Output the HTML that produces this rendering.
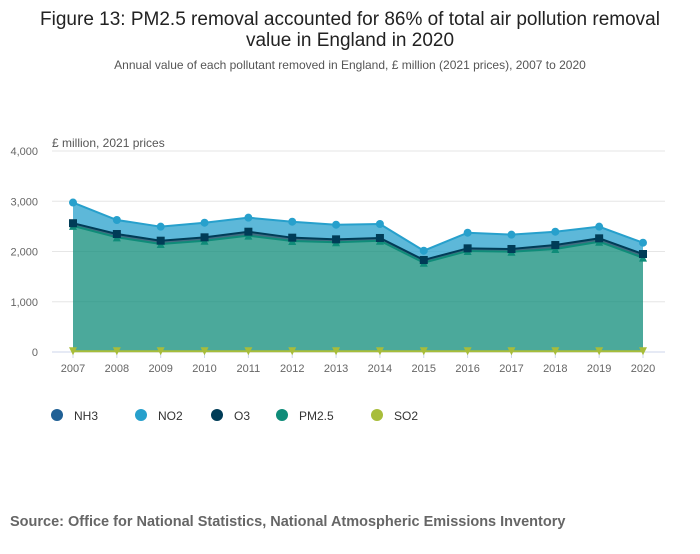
<!DOCTYPE html>
<html><head><meta charset="utf-8"><style>
body{margin:0;background:#fff;font-family:"Liberation Sans",sans-serif;}
svg text{font-family:"Liberation Sans",sans-serif;}
</style></head><body>
<svg width="700" height="549" id="c">
<text x="350" y="25" text-anchor="middle" font-size="19" fill="#222">Figure 13: PM2.5 removal accounted for 86% of total air pollution removal</text>
<text x="350" y="46" text-anchor="middle" font-size="19" fill="#222">value in England in 2020</text>
<text x="350" y="69" text-anchor="middle" font-size="12" fill="#555">Annual value of each pollutant removed in England, £ million (2021 prices), 2007 to 2020</text>
<text x="52" y="147" font-size="12" fill="#555">£ million, 2021 prices</text>
<g id="grid"></g><g id="areas"></g><g id="marks"></g><g id="legend"></g>
<text x="10" y="526" font-size="14.5" font-weight="bold" fill="#666">Source: Office for National Statistics, National Atmospheric Emissions Inventory</text>
</svg>
<script>
const years=[2007,2008,2009,2010,2011,2012,2013,2014,2015,2016,2017,2018,2019,2020];
const yTicks=[0,1000,2000,3000,4000];
const so2=[15,15,15,15,15,15,15,15,15,15,15,15,15,15];
const nh3=[10,10,10,10,10,10,10,10,10,10,10,10,10,10];
const pm25=[2485,2257,2124,2190,2290,2184,2158,2190,1752,1985,1971,2025,2170,1852];
const o3=[53,66,66,67,79,66,59,54,54,53,54,79,67,73];
const no2=[411,279,279,291,279,318,291,278,185,311,285,265,232,225];
const NS="http://www.w3.org/2000/svg";
const X=i=>73+i*(643-73)/(years.length-1);
const Y=v=>352-v*(352-151)/4000;
function mk(t,a,p){const e=document.createElementNS(NS,t);for(const k in a)e.setAttribute(k,a[k]);p.appendChild(e);return e;}
const grid=document.getElementById('grid');
yTicks.forEach(t=>{
 const l=mk('line',{x1:52,x2:665,y1:Y(t),y2:Y(t),stroke:t?'#e6e6e6':'#ccd6eb'},grid);
 
 
 const tx=mk('text',{x:38,y:Y(t)+4,'text-anchor':'end','font-size':11,fill:'#666'},grid);tx.textContent=t.toLocaleString('en-US');
 
 
});
years.forEach((y,i)=>{
 mk('line',{x1:X(i),x2:X(i),y1:352,y2:358,stroke:'#ccd6eb'},grid);
 const tx=mk('text',{x:X(i),y:372,'text-anchor':'middle','font-size':11,fill:'#666'},grid);tx.textContent=y;
 
 
});
const series=[
 {name:'SO2',d:so2,c:'#a8bd3a',f:'#a8bd3a',m:'tridown'},
 {name:'NH3',d:nh3,c:'#206095',f:'rgba(32,96,149,0.75)',m:'none'},
 {name:'PM2.5',d:pm25,c:'#0f8c79',f:'rgba(15,140,121,0.75)',m:'tri'},
 {name:'O3',d:o3,c:'#003c57',f:'rgba(0,60,87,0.75)',m:'sq'},
 {name:'NO2',d:no2,c:'#27a0cc',f:'rgba(39,160,204,0.75)',m:'circ'}
];
const areas=document.getElementById('areas'),marks=document.getElementById('marks');
let base=years.map(()=>0);
series.forEach(s=>{
 const top=base.map((b,i)=>b+s.d[i]);
 let p='M'+years.map((_,i)=>X(i)+','+Y(top[i])).join('L');
 for(let i=years.length-1;i>=0;i--)p+='L'+X(i)+','+Y(base[i]);
 const a=mk('path',{d:p+'Z',fill:s.f,stroke:'none'},areas);
 
 
 if(s.m!=='none'){
 const ln=mk('polyline',{points:years.map((_,i)=>X(i)+','+Y(top[i])).join(' '),fill:'none',stroke:s.c,'stroke-width':2},marks);
 
 
 }
 top.forEach((v,i)=>{
  const x=X(i),y=Y(v);let e;
  if(s.m==='none')return;
  if(s.m==='circ')e=mk('circle',{cx:x,cy:y,r:4,fill:s.c},marks);
  else if(s.m==='sq')e=mk('rect',{x:x-4,y:y-4,width:8,height:8,fill:s.c},marks);
  else if(s.m==='tri')e=mk('path',{d:`M${x},${y-4}L${x+4},${y+4}L${x-4},${y+4}Z`,fill:s.c},marks);
  else e=mk('path',{d:`M${x-4},${y-4}L${x+4},${y-4}L${x},${y+4}Z`,fill:s.c},marks);
  
  
 });
 base=top;
});
const leg=document.getElementById('legend');
const legOrder=[['NH3','#206095',57],['NO2','#27a0cc',141],['O3','#003c57',217],['PM2.5','#0f8c79',282],['SO2','#a8bd3a',377]];
legOrder.forEach(([n,c,x])=>{
 const g=mk('g',{},leg);
 
 
 mk('circle',{cx:x,cy:415,r:6,fill:c},g);
 const t=mk('text',{x:x+17,y:420,'font-size':12,fill:'#333'},g);t.textContent=n;
});
</script>
</body></html>
